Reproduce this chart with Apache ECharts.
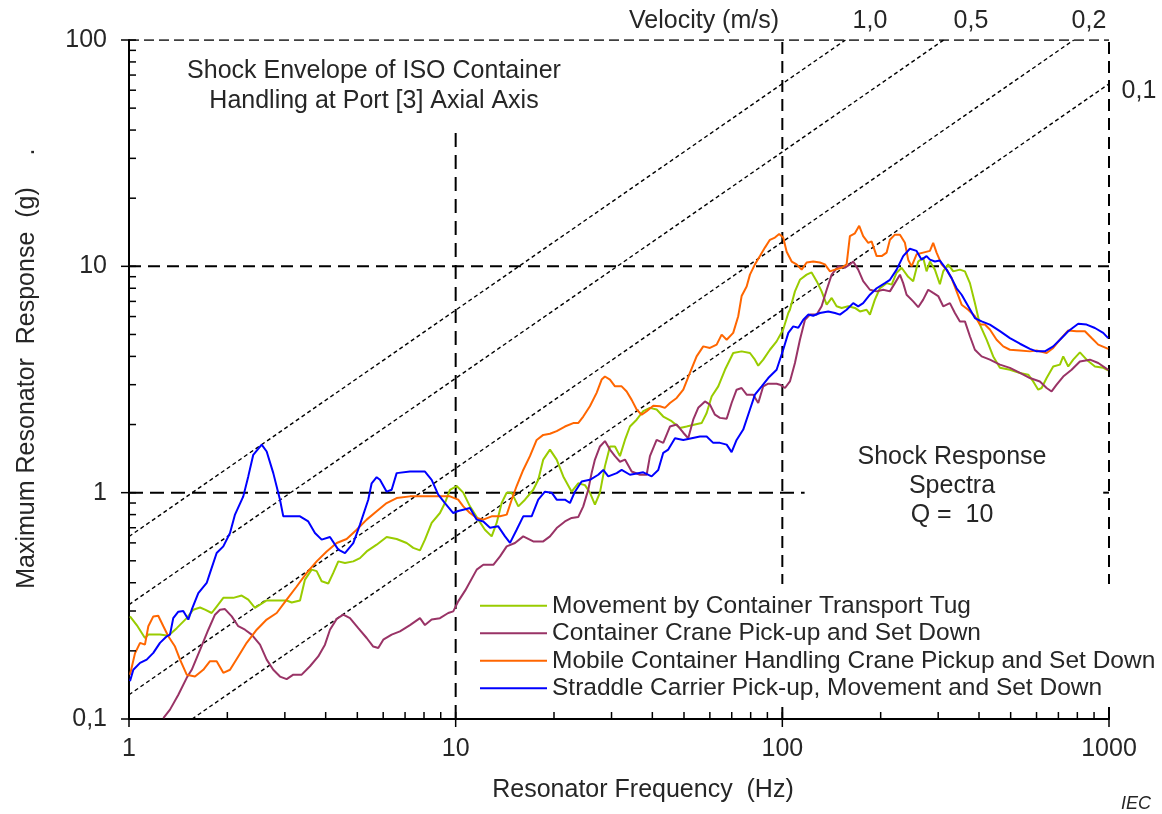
<!DOCTYPE html>
<html>
<head>
<meta charset="utf-8">
<title>Shock Response Spectra</title>
<script src="https://cdn.jsdelivr.net/npm/echarts@6/dist/echarts.min.js"></script>
<style>
  html, body { margin: 0; padding: 0; background: #fff; }
  #chart { width: 1162px; height: 814px; }
</style>
</head>
<body>
<div id="chart"></div>
<script>
// Axis ticks (log scales)
const freqTicksMajor = [1, 10, 100, 1000];
const freqTicksMinor = [2, 3, 4, 5, 6, 7, 8, 9, 20, 30, 40, 50, 60, 70, 80, 90, 200, 300, 400, 500, 600, 700, 800, 900];
const accTicksMajor = [0.1, 1, 10, 100];
const accTicksMinor = [0.2, 0.3, 0.4, 0.5, 0.6, 0.7, 0.8, 0.9, 2, 3, 4, 5, 6, 7, 8, 9, 20, 30, 40, 50, 60, 70, 80, 90];

const seriesNames = [
  'Movement by Container Transport Tug',
  'Container Crane Pick-up and Set Down',
  'Mobile Container Handling Crane Pickup and Set Down',
  'Straddle Carrier Pick-up, Movement and Set Down'
];

// Constant-velocity reference lines (m/s) and their end points [Hz, g]
const velocityLabels = ['1,0', '0,5', '0,2', '0,1'];
const velocityFrom = [[1, 0.64], [1, 0.32], [1, 0.128], [1.56, 0.1]];
const velocityTo = [[156, 100], [312, 100], [780, 100], [1000, 64]];

// Shock response spectra, [frequency Hz, peak response g]
const tugData = [
  [1.007,0.284],[1.056,0.26],[1.119,0.228],[1.146,0.236],[1.244,0.236],[1.319,0.233],[1.40,0.252],[1.502,0.279],
  [1.573,0.304],[1.65,0.311],[1.709,0.304],[1.791,0.294],[1.855,0.314],[1.944,0.343],[2.086,0.343],[2.213,0.351],
  [2.318,0.337],[2.43,0.31],[2.518,0.32],[2.639,0.334],[3.039,0.334],[3.148,0.327],[3.338,0.334],[3.457,0.413],
  [3.624,0.457],[3.754,0.45],[3.888,0.406],[4.074,0.397],[4.22,0.442],[4.372,0.497],[4.583,0.489],[4.859,0.497],
  [5.094,0.514],[5.34,0.55],[5.73,0.589],[6.148,0.637],[6.597,0.624],[7.079,0.599],[7.417,0.57],[7.776,0.556],
  [8.054,0.62],[8.443,0.735],[8.951,0.813],[9.272,0.90],[9.605,1.03],[10.07,1.07],[10.55,1.0],[11.06,0.87],
  [11.73,0.76],[12.29,0.686],[12.89,0.641],[13.35,0.735],[13.83,0.90],[14.33,1.0],[14.84,1.0],[15.55,0.87],
  [16.3,0.931],[17.28,1.03],[17.9,1.14],[18.54,1.40],[19.44,1.55],[20.38,1.40],[21.35,1.18],[22.65,1.01],
  [23.72,1.10],[24.87,1.08],[25.76,1.0],[26.69,0.885],[27.65,1.0],[28.64,1.31],[29.67,1.60],[30.74,1.60],
  [31.84,1.45],[32.98,1.71],[34.16,1.96],[35.81,2.10],[37.52,2.29],[39.33,2.37],[41.23,2.33],[43.2,2.17],
  [45.84,2.07],[48.6,1.93],[50.93,1.96],[54.0,2.0],[56.62,2.03],[58.66,2.25],[60.76,2.66],[63.66,2.95],
  [66.74,3.49],[70.73,4.14],[75.05,4.21],[79.59,4.14],[82.44,3.87],[84.38,3.64],[87.41,3.87],[91.62,4.28],
  [96.05,4.66],[100.6,5.26],[104.3,6.22],[105.5,6.43],[109.3,7.75],[113.2,8.72],[118.7,9.19],[122.9,9.4],
  [127.4,8.6],[131.9,7.75],[136.7,6.77],[141.6,7.25],[146.6,6.66],[151.9,6.55],[159.1,6.66],[166.8,6.55],
  [172.8,6.32],[181.1,6.43],[185.4,6.12],[192.0,7.13],[199.0,8.0],[208.6,8.43],[216.1,8.3],[223.8,9.37],
  [231.8,9.86],[242.8,8.99],[251.5,8.6],[260.6,10.5],[269.9,10.9],[276.4,9.5],[283.0,10.5],[293.1,9.67],
  [303.6,8.33],[310.8,9.5],[321.9,10.2],[333.5,9.5],[349.6,9.67],[362.2,9.5],[375.2,8.43],[388.6,6.88],
  [402.5,5.53],[422.0,4.74],[442.1,4.0],[463.5,3.56],[497.4,3.49],[533.8,3.38],[565.9,3.32],[586.1,3.10],
  [607.2,2.85],[621.9,2.9],[644.2,3.21],[674.9,3.61],[707.6,3.68],[724.2,4.0],[750.2,3.61],[777.1,3.87],
  [814.6,4.17],[854.1,3.87],[905.6,3.61],[960.0,3.56],[994.3,3.47]
];

const craneData = [
  [1.274,0.101],[1.335,0.11],[1.416,0.128],[1.502,0.152],[1.556,0.165],[1.65,0.202],[1.749,0.248],[1.833,0.289],
  [1.899,0.304],[1.967,0.306],[2.063,0.284],[2.16,0.257],[2.265,0.248],[2.374,0.236],[2.518,0.213],[2.639,0.183],
  [2.765,0.165],[2.899,0.154],[3.039,0.150],[3.184,0.157],[3.378,0.157],[3.581,0.171],[3.796,0.189],[3.98,0.213],
  [4.123,0.248],[4.323,0.277],[4.529,0.289],[4.747,0.279],[5.033,0.252],[5.34,0.228],[5.594,0.209],[5.795,0.206],
  [6.003,0.224],[6.369,0.236],[6.752,0.244],[7.246,0.26],[7.776,0.279],[8.054,0.26],[8.443,0.275],[8.951,0.279],
  [9.49,0.294],[9.831,0.299],[10.18,0.331],[10.7,0.37],[11.6,0.457],[12.15,0.48],[13.04,0.48],[13.67,0.523],
  [14.33,0.579],[15.19,0.599],[16.1,0.641],[17.28,0.609],[18.54,0.609],[19.44,0.641],[20.38,0.698],[21.6,0.746],
  [22.65,0.773],[23.72,0.78],[24.58,0.87],[25.46,1.03],[26.07,1.22],[26.69,1.40],[27.65,1.60],[28.64,1.69],
  [29.67,1.55],[30.74,1.45],[31.84,1.37],[32.98,1.40],[34.58,1.24],[36.66,1.20],[38.43,1.20],[39.33,1.45],
  [41.23,1.71],[43.2,1.66],[45.29,1.96],[47.49,2.0],[49.75,1.84],[51.51,1.74],[53.36,2.1],[55.27,2.37],
  [57.96,2.53],[60.03,2.45],[62.19,2.21],[64.42,2.14],[67.54,2.12],[69.94,2.49],[72.45,2.85],[75.05,2.9],
  [77.76,2.71],[81.46,2.71],[84.38,2.49],[87.41,2.95],[90.53,3.03],[96.05,3.03],[98.31,3.0],[101.9,2.9],
  [105.5,3.10],[109.3,3.74],[113.2,4.74],[117.3,5.81],[121.5,6.12],[127.4,6.12],[131.9,6.66],[136.7,7.88],
  [141.6,9.19],[148.3,10.0],[155.5,9.86],[161.0,10.2],[164.8,10.5],[170.7,9.67],[176.8,8.6],[185.4,7.88],
  [194.4,7.75],[203.6,7.88],[213.5,7.75],[221.1,8.43],[229.1,9.19],[234.4,8.43],[240.1,7.49],[251.5,7.0],
  [260.6,6.6],[269.9,7.13],[279.6,7.88],[289.6,7.63],[300.0,7.39],[310.8,6.66],[325.8,6.88],[337.5,6.22],
  [349.6,5.71],[362.2,5.71],[375.2,4.91],[388.6,4.28],[407.4,4.0],[431.9,3.87],[463.5,3.68],[497.4,3.56],
  [533.8,3.38],[572.7,3.21],[614.5,3.10],[644.2,2.9],[667.3,2.8],[691.3,3.0],[724.2,3.26],[768.3,3.49],
  [814.6,3.8],[874.3,3.87],[926.9,3.74],[994.3,3.49]
];

const mobileData = [
  [1.007,0.157],[1.043,0.195],[1.081,0.217],[1.119,0.213],[1.146,0.257],[1.187,0.284],[1.229,0.286],[1.274,0.257],
  [1.319,0.232],[1.383,0.209],[1.433,0.183],[1.502,0.157],[1.592,0.154],[1.688,0.165],[1.77,0.18],[1.855,0.18],
  [1.944,0.16],[2.038,0.165],[2.16,0.189],[2.292,0.217],[2.46,0.248],[2.639,0.275],[2.832,0.294],[3.039,0.337],
  [3.261,0.385],[3.499,0.442],[3.754,0.497],[4.028,0.55],[4.323,0.599],[4.638,0.624],[4.977,0.686],[5.34,0.76],
  [5.73,0.827],[6.148,0.90],[6.597,0.947],[7.246,0.963],[8.151,0.963],[8.951,0.963],[9.605,0.963],[10.18,0.931],
  [10.55,0.87],[11.06,0.813],[11.6,0.773],[12.15,0.76],[12.89,0.786],[13.67,0.786],[14.33,0.80],[14.84,0.931],
  [15.37,1.07],[16.1,1.26],[16.88,1.45],[17.7,1.71],[18.54,1.80],[19.44,1.82],[20.38,1.87],[21.6,1.96],
  [22.9,2.03],[23.72,2.03],[24.58,2.17],[25.76,2.41],[27.01,2.76],[27.98,3.16],[28.64,3.26],[29.67,3.16],
  [30.74,2.95],[32.22,2.95],[33.38,2.8],[34.58,2.57],[35.81,2.33],[37.1,2.21],[38.43,2.29],[40.26,2.42],
  [42.21,2.41],[43.72,2.37],[45.29,2.49],[47.49,2.62],[49.75,2.85],[52.13,3.38],[54.65,4.0],[57.27,4.43],
  [60.03,4.36],[62.94,4.51],[65.2,4.99],[67.54,4.74],[70.73,5.08],[73.28,6.02],[75.05,7.39],[77.76,8.14],
  [79.59,9.19],[82.44,10.2],[85.4,11.1],[88.45,12.1],[91.62,13.1],[94.91,13.4],[97.8,13.9],[100.6,13.4],
  [103.1,11.6],[106.8,10.5],[110.6,10.2],[114.6,9.67],[118.7,10.4],[124.3,10.5],[130.3,10.4],[135.0,10.2],
  [139.9,9.5],[144.9,9.67],[151.9,9.86],[157.3,10.2],[161.0,13.6],[166.8,14.0],[171.9,15.1],[176.8,13.6],
  [183.2,12.7],[187.6,12.9],[194.4,11.1],[201.4,11.1],[208.6,11.5],[213.5,13.1],[221.1,13.8],[229.1,13.8],
  [237.3,12.7],[242.8,10.7],[248.7,10.0],[257.6,11.3],[269.9,11.5],[283.0,11.7],[289.6,12.7],[296.6,11.5],
  [307.3,10.2],[318.3,9.67],[329.7,8.87],[341.6,7.75],[353.9,6.77],[370.7,6.43],[388.6,6.02],[402.5,5.53],
  [417.0,5.53],[431.9,5.26],[452.8,4.74],[474.5,4.43],[497.4,4.28],[533.8,4.25],[572.7,4.21],[600.3,4.25],
  [644.2,4.14],[674.9,4.36],[707.6,4.74],[750.2,5.21],[795.9,5.17],[844.0,5.17],[884.8,4.82],[926.9,4.51],
  [994.3,4.32]
];

const straddleData = [
  [1.007,0.147],[1.031,0.165],[1.081,0.177],[1.133,0.183],[1.187,0.196],[1.244,0.217],[1.305,0.232],[1.335,0.236],
  [1.366,0.279],[1.416,0.298],[1.466,0.30],[1.519,0.275],[1.556,0.304],[1.63,0.36],[1.729,0.399],[1.77,0.442],
  [1.855,0.541],[1.944,0.579],[2.038,0.663],[2.111,0.80],[2.238,0.963],[2.318,1.18],[2.401,1.47],[2.548,1.63],
  [2.639,1.52],[2.765,1.22],[2.899,0.931],[2.967,0.786],[3.11,0.786],[3.338,0.786],[3.538,0.746],[3.709,0.663],
  [3.888,0.62],[4.123,0.637],[4.372,0.56],[4.583,0.541],[4.859,0.599],[5.094,0.722],[5.40,0.931],[5.531,1.10],
  [5.73,1.17],[5.865,1.14],[6.148,1.01],[6.369,1.03],[6.597,1.22],[7.246,1.24],[8.054,1.24],[8.443,1.14],
  [8.845,0.98],[9.272,0.90],[9.831,0.813],[10.18,0.83],[10.55,0.841],[11.06,0.855],[11.6,0.76],[12.15,0.746],
  [12.74,0.70],[13.5,0.71],[14.16,0.641],[14.67,0.60],[15.37,0.686],[16.1,0.786],[17.08,0.786],[17.9,0.931],
  [18.76,1.01],[19.67,1.0],[20.38,0.931],[21.6,0.931],[22.38,0.90],[23.18,1.01],[24.3,1.12],[25.76,1.14],
  [27.32,1.20],[28.3,1.26],[29.32,1.18],[31.11,1.22],[32.22,1.26],[34.16,1.20],[37.52,1.23],[39.8,1.18],
  [41.7,1.26],[43.2,1.50],[44.75,1.55],[46.92,1.74],[49.75,1.71],[52.76,1.74],[55.95,1.77],[58.66,1.77],
  [61.44,1.66],[64.42,1.66],[67.54,1.63],[69.94,1.51],[72.45,1.71],[75.91,1.90],[79.59,2.33],[82.44,2.71],
  [86.43,2.95],[90.53,3.21],[96.05,3.49],[100.6,4.28],[104.3,5.08],[108.0,5.43],[111.9,5.35],[115.9,5.81],
  [120.0,6.12],[124.3,6.05],[130.3,6.22],[138.2,6.32],[144.9,6.22],[150.1,6.12],[157.3,6.43],[164.8,6.88],
  [170.7,6.66],[176.8,6.88],[185.4,7.49],[194.4,8.0],[206.1,8.43],[213.5,8.72],[223.8,9.67],[234.4,11.1],
  [245.7,11.96],[257.6,11.7],[266.9,10.7],[276.4,11.1],[283.0,10.7],[293.1,10.5],[303.6,10.6],[318.3,9.67],
  [329.7,8.87],[341.6,8.0],[353.9,7.49],[370.7,6.66],[388.6,5.91],[407.4,5.71],[431.9,5.53],[463.5,5.17],
  [497.4,4.82],[533.8,4.55],[572.7,4.32],[600.3,4.21],[636.5,4.21],[674.9,4.43],[707.6,4.74],[750.2,5.17],
  [804.9,5.58],[854.1,5.53],[905.6,5.34],[960.0,5.08],[994.3,4.82]
];

const seriesData = [tugData, craneData, mobileData, straddleData];
const seriesColors = ['#99CC00', '#993366', '#FF6600', '#0000FF'];

const FONT = '"Liberation Sans", Arial, sans-serif';
const TEXT = '#262626';

function guide(points, width, dash, name) {
  return {
    name: name, type: 'line', data: points, symbol: 'none', silent: true, z: 1,
    lineStyle: { color: '#000', width: width, type: dash },
    emphasis: { disabled: true }, animation: false
  };
}

const series = [];

// dashed grid lines
series.push(guide([[1, 100], [1000, 100]], 1.6, [10, 5], 'g100'));
series.push(guide([[1, 10], [1000, 10]], 2, [12, 7], 'g10'));
series.push(guide([[1, 1], [117, 1]], 2, [14, 7], 'g1a'));
series.push(guide([[960, 1], [1000, 1]], 2, [14, 7], 'g1b'));
series.push(guide([[10, 0.1], [10, 41]], 2, [14, 8], 'f10'));
series.push(guide([[100, 0.1], [100, 100]], 2, [12, 7], 'f100'));
series.push(guide([[1000, 0.1], [1000, 100]], 2, [12, 7], 'f1000'));

// constant-velocity lines
velocityFrom.forEach((p, i) => {
  series.push(guide([p, velocityTo[i]], 1.4, [4, 3], 'v' + velocityLabels[i]));
});

// spectra
seriesNames.forEach((name, i) => {
  series.push({
    name: name, type: 'line', data: seriesData[i], symbol: 'none', z: 3,
    color: seriesColors[i],
    lineStyle: { color: seriesColors[i], width: 2 },
    emphasis: { disabled: true }, animation: false
  });
});

// axis ticks: major ticks cross the axis, minor ticks point inward
function tickSeries(axis) {
  const data = [];
  if (axis === 'x') {
    freqTicksMajor.forEach(v => data.push([v, 0.1, 1]));
    freqTicksMinor.forEach(v => data.push([v, 0.1, 0]));
  } else {
    accTicksMajor.forEach(v => data.push([1, v, 1]));
    accTicksMinor.forEach(v => data.push([1, v, 0]));
  }
  return {
    type: 'custom', silent: true, clip: false, z: 5, animation: false,
    data: data,
    renderItem: function (params, api) {
      const p = api.coord([api.value(0), api.value(1)]);
      const major = api.value(2) === 1;
      const inLen = 7, outLen = major ? 8 : 0;
      const shape = axis === 'x'
        ? { x1: p[0], y1: p[1] + outLen, x2: p[0], y2: p[1] - inLen }
        : { x1: p[0] - outLen, y1: p[1], x2: p[0] + inLen, y2: p[1] };
      return { type: 'line', shape: shape, style: { stroke: '#000', lineWidth: 1.5 } };
    }
  };
}
series.push(tickSeries('x'));
series.push(tickSeries('y'));

function txt(text, x, y, opts) {
  return Object.assign({
    type: 'text', x: x, y: y, silent: true, z: 10,
    style: Object.assign({
      text: text, fill: TEXT, fontSize: 25, fontFamily: FONT,
      align: 'center', verticalAlign: 'middle'
    }, (opts && opts.style) || {})
  }, (opts && opts.el) || {});
}

const fmt = v => String(Number(v.toPrecision(6))).replace('.', ',');

const option = {
  backgroundColor: '#fff',
  animation: false,
  grid: { left: 129, top: 40, width: 980, height: 679, containLabel: false },
  xAxis: {
    type: 'log', logBase: 10, min: 1, max: 1000,
    axisLine: { show: true, lineStyle: { color: '#000', width: 2 } },
    axisTick: { show: false }, minorTick: { show: false },
    splitLine: { show: false },
    axisLabel: { color: TEXT, fontSize: 25, fontFamily: FONT, margin: 18, formatter: fmt }
  },
  yAxis: {
    type: 'log', logBase: 10, min: 0.1, max: 100,
    axisLine: { show: true, lineStyle: { color: '#000', width: 2 } },
    axisTick: { show: false }, minorTick: { show: false },
    splitLine: { show: false },
    axisLabel: { color: TEXT, fontSize: 25, fontFamily: FONT, margin: 22, formatter: fmt }
  },
  legend: {
    data: seriesNames,
    orient: 'vertical', left: 474, top: 584,
    padding: [8, 6, 5, 6],
    backgroundColor: '#fff',
    icon: 'rect', itemWidth: 67, itemHeight: 2, itemGap: 0,
    selectedMode: false,
    textStyle: { color: TEXT, fontSize: 24.5, fontFamily: FONT, lineHeight: 27.5 }
  },
  graphic: [
    txt('Shock Envelope of ISO Container', 374, 71),
    txt('Handling at Port [3] Axial Axis', 374, 101),
    txt('Velocity (m/s)', 629, 21, { style: { align: 'left' } }),
    txt(velocityLabels[0], 870, 21),
    txt(velocityLabels[1], 971, 21),
    txt(velocityLabels[2], 1089, 21),
    txt(velocityLabels[3], 1139, 91),
    txt('Shock Response', 952, 457),
    txt('Spectra', 952, 486),
    txt('Q =  10', 952, 515),
    txt('Resonator Frequency  (Hz)', 643, 790),
    txt('Maximum Resonator  Response  (g)', 27, 388, { el: { rotation: Math.PI / 2 } }),
    txt('.', 27, 152, { el: { rotation: Math.PI / 2 } }),
    txt('IEC', 1136, 804, { style: { fontSize: 18, fontStyle: 'italic' } })
  ],
  series: series
};

const chart = echarts.init(document.getElementById('chart'), null, { renderer: 'canvas' });
chart.setOption(option);
</script>
</body>
</html>
